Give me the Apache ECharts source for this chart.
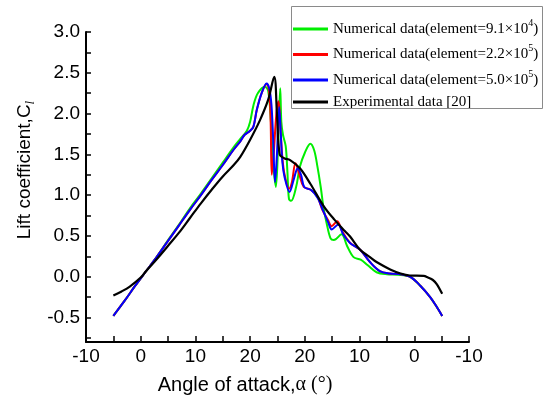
<!DOCTYPE html>
<html>
<head>
<meta charset="utf-8">
<script src="https://cdn.jsdelivr.net/npm/echarts@6/dist/echarts.min.js"></script>
<style>
  html, body { margin: 0; padding: 0; background: #fff; }
  #main { width: 544px; height: 402px; }
</style>
</head>
<body>
<div id="main"></div>
<script>
  // x is a position along the pitching cycle: up-stroke alpha = x, down-stroke alpha = 50 - x
  var greenX = [-5,-3,-1,1,3,5,7,9,11,13,15,17,18.2,19.4,20.0,20.6,21.4,22.7,23.3,23.8,24.2,24.7,25.1,25.5,25.7,26.0,26.5,26.8,27.1,27.5,28.4,29.1,30.0,31.0,31.7,32.3,32.9,33.4,34.0,34.7,35.3,36.7,37.7,38.9,40.2,41.5,43.1,45.0,47.0,49.2,51.1,52.9,54.2,55.1];
  var greenY = [-0.48,-0.30,-0.11,0.07,0.25,0.45,0.64,0.84,1.02,1.21,1.40,1.59,1.69,1.79,1.90,2.10,2.25,2.33,2.28,1.90,1.40,1.10,1.60,2.31,1.90,1.74,1.60,1.30,0.95,0.93,1.10,1.35,1.52,1.63,1.55,1.35,1.10,0.85,0.65,0.47,0.45,0.52,0.38,0.24,0.21,0.14,0.055,0.03,0.025,0.0,-0.11,-0.25,-0.38,-0.48];

  var redX = [-5,-3,-1,1,3,5,7,9,11,13,15,17,18.2,19,20,20.6,21.2,22.1,23.0,23.5,23.75,23.95,24.3,24.8,25.2,25.6,25.9,26.3,27.1,27.6,28.3,29.0,29.8,31.0,32.3,33.2,34.2,34.9,35.9,36.8,38.2,40.1,41.9,43.7,45.5,47.5,49.2,51.1,52.9,54.2,55.1];
  var redY = [-0.48,-0.30,-0.11,0.07,0.25,0.44,0.63,0.82,1.00,1.19,1.37,1.56,1.66,1.74,1.79,1.84,2.04,2.25,2.36,2.25,1.90,1.25,1.50,2.00,2.15,1.75,1.45,1.25,1.08,1.15,1.39,1.25,1.10,1.07,0.98,0.82,0.70,0.62,0.68,0.56,0.42,0.33,0.18,0.07,0.04,0.03,0.00,-0.11,-0.25,-0.38,-0.48];

  var blueX = [-5,-3,-1,1,3,5,7,9,11,13,15,17,18.2,19,20,20.6,21.2,22.1,23.0,23.5,23.9,24.2,24.55,24.9,25.3,25.6,25.9,26.3,27.2,28.0,28.7,29.3,29.9,31.2,32.4,33.4,34.3,34.9,36.1,37.0,38.3,40.1,41.9,43.7,45.5,47.5,49.2,51.1,52.9,54.2,55.1];
  var blueY = [-0.48,-0.30,-0.11,0.07,0.25,0.44,0.63,0.82,1.00,1.19,1.37,1.56,1.66,1.74,1.79,1.84,2.04,2.25,2.37,2.31,2.10,1.70,1.16,1.50,2.08,1.75,1.40,1.22,1.04,1.20,1.33,1.25,1.10,1.06,0.96,0.80,0.66,0.58,0.64,0.52,0.41,0.33,0.18,0.07,0.04,0.03,0.00,-0.11,-0.25,-0.38,-0.48];

  var blackX = [-5,-3.5,-2,0,1,3,5,7,9,11,13,15,17,18.2,20,21.8,23.3,24.4,24.9,25.4,26.3,27.3,29.1,31,33.4,35.4,37.3,38.3,40.1,41.9,43.1,45.6,47.5,49.2,51.7,52.5,53.4,54.1,55.1];
  var blackY = [-0.23,-0.18,-0.12,-0.01,0.07,0.22,0.38,0.54,0.72,0.90,1.07,1.23,1.37,1.47,1.68,1.92,2.17,2.45,2.00,1.50,1.45,1.43,1.33,1.14,0.87,0.70,0.56,0.49,0.33,0.24,0.18,0.09,0.04,0.015,0.01,-0.01,-0.04,-0.09,-0.21];

  var xTicks = [-10,-5,0,5,10,15,20,25,30,35,40,45,50,55,60];
  var xLabels = [-10,0,10,20,30,40,50,60];
  var yTicks = [-0.75,-0.5,-0.25,0,0.25,0.5,0.75,1,1.25,1.5,1.75,2,2.25,2.5,2.75,3];
  var yLabels = [-0.5,0,0.5,1,1.5,2,2.5,3];

  var names = [
    'Numerical data(element=9.1×10^4)',
    'Numerical data(element=2.2×10^5)',
    'Numerical data(element=5.0×10^5)',
    'Experimental data [20]'
  ];

  function pairs(xs, ys) {
    var out = [];
    for (var i = 0; i < xs.length; i++) out.push([xs[i], ys[i]]);
    return out;
  }

  function makeLine(name, color, xs, ys, w) {
    return {
      name: name,
      type: 'line',
      data: pairs(xs, ys),
      showSymbol: false,
      smooth: 0.35,
      lineStyle: { color: color, width: w },
      itemStyle: { color: color }
    };
  }

  var chart = echarts.init(document.getElementById('main'));
  chart.setOption({
    animation: false,
    grid: { left: 86, right: 75, top: 32, bottom: 60 },
    legend: {
      orient: 'vertical',
      left: 291,
      top: 7,
      padding: [11, 4, 0, 2],
      itemGap: 7,
      itemWidth: 35,
      itemHeight: 3,
      icon: 'rect',
      selectedMode: false,
      backgroundColor: '#fff',
      borderWidth: 0,
      data: names,
      formatter: function (n) {
        if (n.indexOf('^') < 0) return '{c|' + n + '}';
        var parts = n.split('^');
        return '{a|' + parts[0] + '}{s|' + parts[1].charAt(0) + '}{a|)}';
      },
      textStyle: {
        color: '#000',
        fontFamily: 'Liberation Serif',
        fontSize: 15,
        rich: {
          a: { fontFamily: 'Liberation Serif', fontSize: 15, lineHeight: 22, color: '#000' },
          s: { fontFamily: 'Liberation Serif', fontSize: 10, lineHeight: 12, verticalAlign: 'top', color: '#000' },
          c: { fontFamily: 'Liberation Serif', fontSize: 15, lineHeight: 4, color: '#000' }
        }
      }
    },
    xAxis: {
      type: 'value',
      min: -10,
      max: 60,
      interval: 5,
      splitLine: { show: false },
      axisLine: { onZero: false, lineStyle: { color: '#000', width: 2 } },
      axisTick: { inside: true, length: 6, customValues: xTicks, lineStyle: { color: '#000', width: 1.5 } },
      axisLabel: {
        customValues: xLabels,
        color: '#000',
        fontFamily: 'Liberation Sans',
        fontSize: 19,
        margin: 5,
        formatter: function (v) { return String(v <= 25 ? v : 50 - v); }
      }
    },
    yAxis: {
      type: 'value',
      min: -0.8,
      max: 3.0,
      splitLine: { show: false },
      axisLine: { show: true, onZero: false, lineStyle: { color: '#000', width: 2 } },
      axisTick: { show: true, inside: true, length: 5, customValues: yTicks, lineStyle: { color: '#000', width: 1.5 } },
      axisLabel: {
        customValues: yLabels,
        color: '#000',
        fontFamily: 'Liberation Sans',
        fontSize: 19,
        margin: 6,
        formatter: function (v) { return v.toFixed(1); }
      }
    },
    graphic: [
      {
        type: 'rect',
        z: 100,
        shape: { x: 291.5, y: 6.5, width: 251, height: 102 },
        style: { fill: 'none', stroke: '#8a8a8a', lineWidth: 1 }
      },
      {
        type: 'text',
        x: 25,
        y: 170,
        rotation: Math.PI / 2,
        style: {
          text: '{a|Lift coefficient,C}{s|l}',
          align: 'center',
          verticalAlign: 'middle',
          rich: {
            a: { fontFamily: 'Liberation Sans', fontSize: 19, lineHeight: 24, fill: '#000' },
            s: { fontFamily: 'Liberation Serif', fontStyle: 'italic', fontSize: 13, lineHeight: 12, verticalAlign: 'bottom', fill: '#000' }
          }
        }
      },
      {
        type: 'text',
        x: 245,
        y: 385,
        style: {
          text: '{a|Angle of attack,}{b|α (°)}',
          align: 'center',
          verticalAlign: 'middle',
          rich: {
            a: { fontFamily: 'Liberation Sans', fontSize: 20, fill: '#000' },
            b: { fontFamily: 'Liberation Serif', fontSize: 20, fill: '#000' }
          }
        }
      }
    ],
    series: [
      makeLine(names[0], '#00ee00', greenX, greenY, 2),
      makeLine(names[1], '#ff0000', redX, redY, 2),
      makeLine(names[2], '#0000ff', blueX, blueY, 2),
      makeLine(names[3], '#000000', blackX, blackY, 2.2)
    ]
  });
</script>
</body>
</html>
